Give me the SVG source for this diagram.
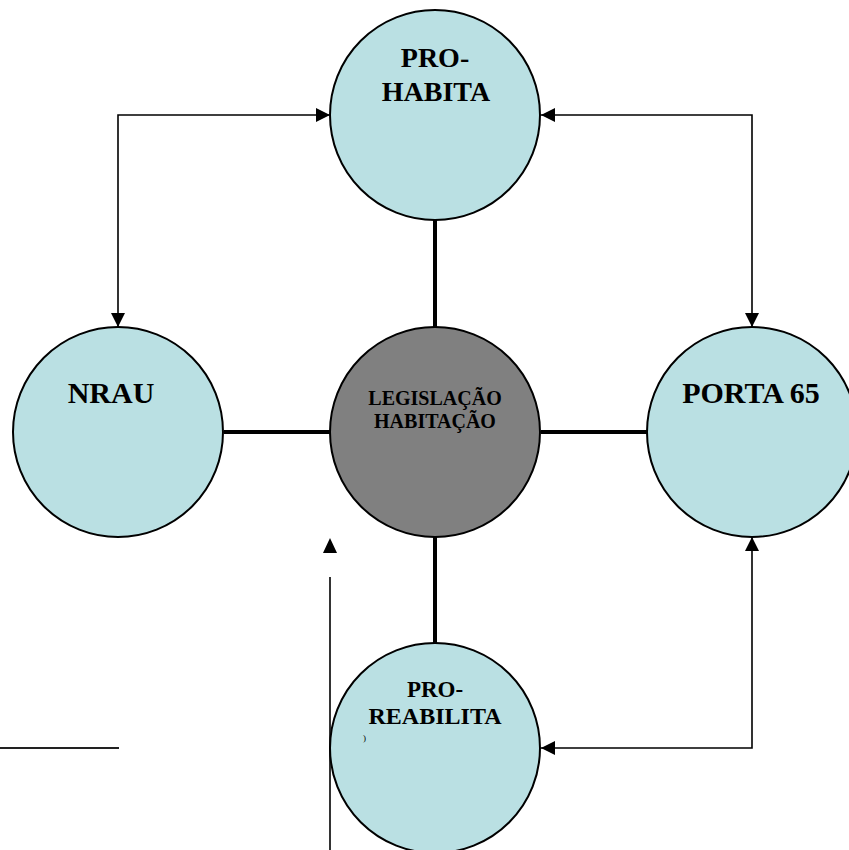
<svg xmlns="http://www.w3.org/2000/svg" width="849" height="850" viewBox="0 0 849 850">
<style>
.node{fill:#BAE0E3;stroke:#000;stroke-width:2}
.hub{fill:#808080;stroke:#000;stroke-width:2}
.thick{stroke:#000;stroke-width:4;fill:none}
.thin{stroke:#000;stroke-width:1.6;fill:none}
.lbl{font-family:"Liberation Serif","Times New Roman",serif;font-weight:bold;fill:#000;text-anchor:middle}
</style>
<defs>
<marker id="ah" viewBox="0 0 14 14" refX="14" refY="7" markerWidth="14" markerHeight="14" markerUnits="userSpaceOnUse" orient="auto-start-reverse">
<path d="M0,0 L14,7 L0,14 Z" fill="#000"/>
</marker>
</defs>
<g id="connectors">
<line class="thick" x1="435" y1="220" x2="435" y2="327"/>
<line class="thick" x1="224" y1="432" x2="330" y2="432"/>
<line class="thick" x1="541" y1="432" x2="647" y2="432"/>
<line class="thick" x1="435" y1="537" x2="435" y2="643"/>
<polyline class="thin" points="118,327 118,115 330,115" marker-start="url(#ah)" marker-end="url(#ah)"/>
<polyline class="thin" points="752,327 752,115 541,115" marker-start="url(#ah)" marker-end="url(#ah)"/>
<polyline class="thin" points="752,537 752,748 541,748" marker-start="url(#ah)" marker-end="url(#ah)"/>
<path d="M330,538 L337,553 L323,553 Z" fill="#000"/>
<line class="thin" x1="330" y1="577" x2="330" y2="850" stroke-width="2"/>
<line x1="0" y1="748" x2="119" y2="748" stroke="#222" stroke-width="2"/>
</g>
<g id="pro-habita">
<circle class="node" cx="435" cy="115" r="105"/>
<text class="lbl" x="435" y="67" font-size="28">PRO-</text>
<text class="lbl" x="436" y="101" font-size="28">HABITA</text>
</g>
<g id="nrau">
<circle class="node" cx="118" cy="432" r="105"/>
<text class="lbl" x="111" y="403" font-size="30">NRAU</text>
</g>
<g id="legislacao">
<circle class="hub" cx="435" cy="432" r="105"/>
<text class="lbl" x="435" y="405" font-size="20">LEGISLAÇÃO</text>
<text class="lbl" x="435" y="428" font-size="20">HABITAÇÃO</text>
</g>
<g id="porta65">
<circle class="node" cx="752" cy="432" r="105"/>
<text class="lbl" x="751" y="403" font-size="30">PORTA 65</text>
</g>
<g id="pro-reabilita">
<circle class="node" cx="435" cy="748" r="105"/>
<text class="lbl" x="435" y="697" font-size="23">PRO-</text>
<text class="lbl" x="435" y="724" font-size="24">REABILITA</text>
<text x="363" y="741" font-family="Liberation Serif,serif" font-size="9" fill="#000">)</text>
</g>
</svg>
